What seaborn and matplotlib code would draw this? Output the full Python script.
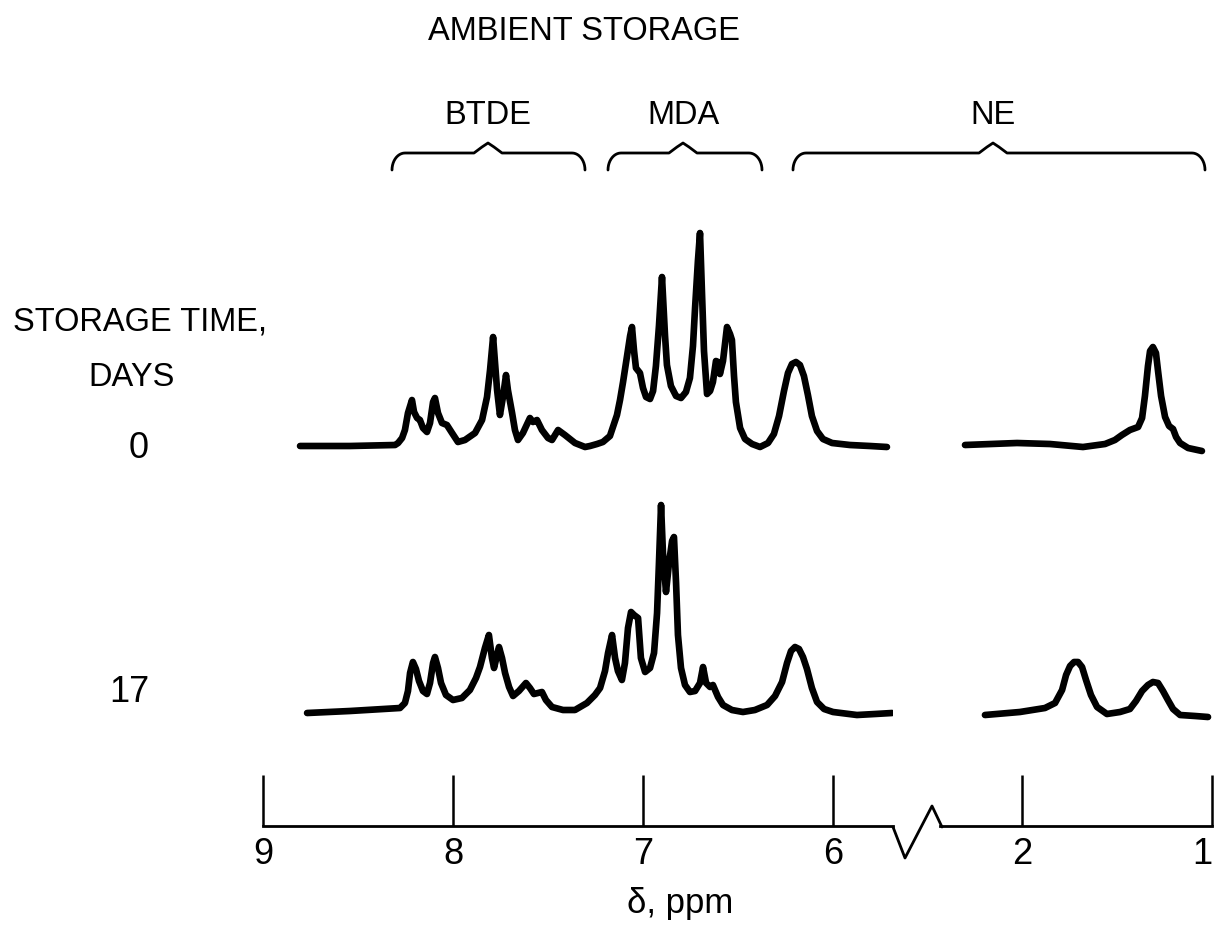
import numpy as np
import pandas as pd
import matplotlib
matplotlib.use('Agg')
import matplotlib.pyplot as plt
from matplotlib.lines import Line2D
import seaborn as sns

# NMR traces: shift in ppm, height above the trace baseline
# day 0, aromatic side (9 - 5.7 ppm)
top_left_ppm = [8.805, 8.542, 8.305, 8.289, 8.268, 8.253, 8.237, 8.216, 8.205, 8.189, 8.174,
                8.158, 8.137, 8.121, 8.105, 8.095, 8.079, 8.058, 8.032, 8.005, 7.974, 7.937,
                7.884, 7.847, 7.821, 7.805, 7.789, 7.768, 7.753, 7.737, 7.721, 7.711, 7.689,
                7.674, 7.658, 7.632, 7.595, 7.579, 7.558, 7.532, 7.500, 7.479, 7.447, 7.411,
                7.358, 7.305,
                7.279, 7.242, 7.211, 7.174, 7.137, 7.121, 7.105, 7.084, 7.068, 7.058, 7.047,
                7.037, 7.016, 7.000, 6.984, 6.963, 6.947, 6.932, 6.916, 6.900, 6.884, 6.874,
                6.853, 6.826, 6.800, 6.774, 6.753, 6.737, 6.726, 6.711, 6.700, 6.689, 6.679,
                6.663, 6.647, 6.632, 6.616, 6.605, 6.595, 6.579, 6.558, 6.542, 6.532, 6.521,
                6.511, 6.489, 6.463, 6.426, 6.384, 6.342, 6.311, 6.284, 6.258, 6.237, 6.216,
                6.195, 6.174, 6.153, 6.132, 6.111, 6.084, 6.053, 6.005, 5.911, 5.805, 5.716]
top_left_h = [0, 0, 1, 3, 8, 16, 33, 46, 34, 28, 26,
              18, 14, 23, 44, 48, 33, 23, 21, 13, 4, 6,
              13, 26, 49, 76, 109, 56, 31, 49, 71, 56, 33,
              16, 6, 13, 28, 24, 26, 16, 8, 6, 16, 11,
              3, -1,
              0, 2, 4, 10, 31, 46, 64, 90, 110, 119, 95,
              78, 73, 58, 49, 47, 55, 80, 120, 169, 110, 81,
              60, 50, 48, 54, 68, 100, 138, 185, 213, 150, 95,
              52, 55, 64, 85, 84, 72, 85, 119, 112, 106, 70,
              44, 18, 7, 2, -1, 3, 12, 30, 55, 73, 82,
              84, 81, 70, 51, 30, 15, 7, 3, 1, 0, -1]

# day 0, aliphatic side (2.4 - 1 ppm)
top_right_ppm = [2.300, 2.026, 1.853, 1.679, 1.563, 1.511, 1.474, 1.432, 1.389, 1.368, 1.353,
                 1.337, 1.326, 1.311, 1.295, 1.284, 1.268, 1.247, 1.226, 1.205, 1.189, 1.168,
                 1.126, 1.053]
top_right_h = [1, 3, 2, -1, 2, 6, 11, 16, 19, 28, 50,
               80, 95, 99, 93, 75, 50, 29, 20, 17, 9, 3,
               -2, -5]

# day 17, aromatic side
bot_left_ppm = [8.768, 8.542, 8.279, 8.253, 8.237, 8.226, 8.211, 8.195, 8.179, 8.158, 8.137,
                8.121, 8.105, 8.095, 8.079, 8.063, 8.037, 8.000, 7.953, 7.911, 7.879, 7.858,
                7.832, 7.811, 7.795, 7.784, 7.768, 7.758, 7.742, 7.726, 7.705, 7.684, 7.653,
                7.616, 7.595, 7.574, 7.553, 7.532, 7.511, 7.479, 7.421, 7.358, 7.295, 7.253,
                7.226, 7.200, 7.184, 7.163, 7.147, 7.132, 7.111, 7.095, 7.079, 7.063, 7.047,
                7.026, 7.011, 6.989, 6.963, 6.942, 6.926, 6.916, 6.905, 6.895, 6.879, 6.863,
                6.847, 6.837, 6.826, 6.816, 6.800, 6.779, 6.753, 6.726, 6.700, 6.684, 6.668,
                6.647, 6.632, 6.605, 6.579, 6.532, 6.474, 6.411, 6.347, 6.305, 6.268, 6.242,
                6.221, 6.200, 6.179, 6.158, 6.137, 6.111, 6.084, 6.047, 6.000, 5.874, 5.779,
                5.689]
bot_left_h = [0, 2, 5, 10, 22, 40, 51, 44, 32, 22, 19,
              30, 50, 56, 45, 30, 18, 13, 15, 23, 35, 46,
              65, 78, 55, 45, 58, 66, 55, 40, 26, 17, 22,
              30, 25, 19, 20, 21, 13, 6, 3, 3, 10, 18,
              25, 42, 60, 78, 55, 42, 33, 50, 85, 101, 98,
              95, 55, 41, 45, 60, 100, 150, 208, 160, 121, 150,
              172, 176, 130, 78, 45, 28, 21, 22, 30, 46, 30,
              26, 28, 16, 8, 3, 1, 3, 8, 17, 31, 50,
              62, 66, 64, 56, 44, 25, 11, 4, 1, -2, -1,
              0]

# day 17, aliphatic side
bot_right_ppm = [2.195, 2.011, 1.879, 1.826, 1.789, 1.768, 1.747, 1.726, 1.705, 1.684, 1.663,
                 1.637, 1.605, 1.553, 1.484, 1.432, 1.400, 1.368, 1.337, 1.311, 1.284, 1.258,
                 1.232, 1.205, 1.168, 1.089, 1.021]
bot_right_h = [-2, 1, 5, 10, 23, 38, 47, 51, 51, 46, 33,
               18, 6, -1, 1, 4, 12, 22, 28, 31, 30, 22,
               13, 4, -2, -3, -4]

day_labels = ['0', '17']
group_labels = ['BTDE', 'MDA', 'NE']
left_ticks = [9, 8, 7, 6]
right_ticks = [2, 1]

sns.set_style('white')
plt.rcParams['font.family'] = ['Liberation Sans', 'DejaVu Sans']
plt.rcParams['text.color'] = 'black'

W, H = 1216, 930
fig = plt.figure(figsize=(W / 100, H / 100), dpi=100)


def fx(px):
    return px / W


def fy(py):
    return 1 - py / H


# broken x axis: two panels at the same 190 px per ppm
ax_l = fig.add_axes([fx(263), fy(826), fx(893) - fx(263), fy(200) - fy(826)])
ax_r = fig.add_axes([fx(940), fy(826), fx(1212) - fx(940), fy(200) - fy(826)])
ax_l.set_xlim(9, 9 - 630 / 190)
ax_r.set_xlim(1 + 272 / 190, 1)

top_off, bot_off = 380, 113
segments = [(ax_l, top_left_ppm, top_left_h, top_off),
            (ax_r, top_right_ppm, top_right_h, top_off),
            (ax_l, bot_left_ppm, bot_left_h, bot_off),
            (ax_r, bot_right_ppm, bot_right_h, bot_off)]
for ax, ppm, h, off in segments:
    df = pd.DataFrame({'ppm': ppm, 'y': np.array(h) + off})
    sns.lineplot(data=df, x='ppm', y='y', ax=ax, color='black', lw=4.8,
                 sort=False, estimator=None, solid_joinstyle='round',
                 solid_capstyle='round')

for ax, ticks in [(ax_l, left_ticks), (ax_r, right_ticks)]:
    ax.set_ylim(0, 626)
    ax.set_xticks(ticks)
    ax.set_xticklabels([str(t) for t in ticks])
    ax.set_yticks([])
    ax.set(xlabel='', ylabel='')
    ax.patch.set_alpha(0)
    for s in ['top', 'left', 'right']:
        ax.spines[s].set_visible(False)
    ax.spines['bottom'].set_linewidth(2.0)
    ax.spines['bottom'].set_color('black')
    ax.tick_params(axis='x', bottom=True, direction='in', length=37, width=1.8,
                   pad=8, labelsize=26, colors='black')

# the "1" sits on the right edge of the figure; keep it inside
ax_r.get_xticklabels()[-1].set_horizontalalignment('right')

# break mark between the two panels
fig.add_artist(Line2D([fx(893), fx(905), fx(932), fx(942)],
                      [fy(827), fy(858), fy(806), fy(827)],
                      color='black', lw=2.0, transform=fig.transFigure))


def brace(x0, x1, xt, y=153, drop=17, tip=10, r=13):
    t = np.linspace(0, np.pi / 2, 12)
    xs = list(x0 + r * (1 - np.cos(t))) + [xt - 14, xt - 6, xt, xt + 6, xt + 14] + list((x1 - r * (1 - np.cos(t)))[::-1])
    ys = list(y + drop * (1 - np.sin(t))) + [y, y - 6, y - tip, y - 6, y] + list((y + drop * (1 - np.sin(t)))[::-1])
    fig.add_artist(Line2D([fx(v) for v in xs], [fy(v) for v in ys], color='black',
                          lw=2.0, transform=fig.transFigure))


fs = 23.5
for (x0, x1, xt), lab in zip([(392, 585, 488), (608, 762, 683), (793, 1205, 993)], group_labels):
    brace(x0, x1, xt)
    fig.text(fx(xt), fy(115), lab, ha='center', va='center', fontsize=fs)

fig.text(fx(584), fy(32), 'AMBIENT STORAGE', ha='center', va='center', fontsize=fs)
fig.text(fx(140), fy(322), 'STORAGE TIME,', ha='center', va='center', fontsize=fs)
fig.text(fx(132), fy(377), 'DAYS', ha='center', va='center', fontsize=fs)
fig.text(fx(139), fy(448), day_labels[0], ha='center', va='center', fontsize=26)
fig.text(fx(129), fy(692), day_labels[1], ha='center', va='center', fontsize=26)
fig.text(fx(680), fy(903), 'δ, ppm', ha='center', va='center', fontsize=25)

fig.savefig('out.png', dpi=100)
